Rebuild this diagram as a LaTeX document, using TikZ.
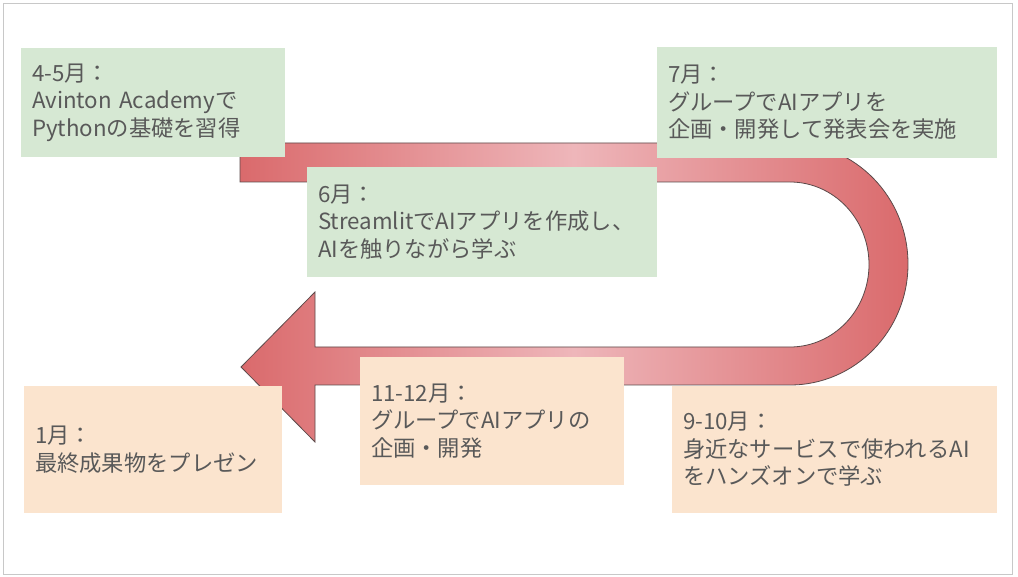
\documentclass[tikz,border=0pt]{standalone}
\usepackage{fontspec}
\setmainfont{Noto Sans CJK JP}
\usetikzlibrary{calc}
\definecolor{boxgreen}{RGB}{214,232,211}
\definecolor{boxorange}{RGB}{251,228,206}
\definecolor{arrowdark}{RGB}{218,106,108}
\definecolor{arrowlight}{RGB}{238,182,186}
\definecolor{arrowline}{RGB}{92,74,74}
\definecolor{txt}{RGB}{89,89,89}
\definecolor{frame}{RGB}{200,200,200}
\begin{document}
\begin{tikzpicture}[x=1pt,y=-1pt,
  stagebox/.style={rectangle, anchor=north west, inner xsep=11pt, inner ysep=0pt,
    outer sep=0pt, align=left, text=txt,
    font=\fontsize{22.3pt}{27.5pt}\selectfont},
  greenbox/.style={stagebox, fill=boxgreen},
  orangebox/.style={stagebox, fill=boxorange},
  uarrow/.style={draw=arrowline, line width=0.8pt, line join=miter,
    left color=arrowdark, right color=arrowdark, middle color=arrowlight}]
\useasboundingbox (0,0) rectangle (1018,577);
\fill[white] (0,0) rectangle (1018,577);
\draw[frame, line width=0.8pt] (3.5,3.5) rectangle (1012,574);
% U-shaped arrow
\path[uarrow] (240,143) -- (790,143)
  arc[start angle=-90, end angle=90, x radius=118, y radius=121]
  -- (315,385) -- (315,442) -- (241,367) -- (315,292) -- (315,347) -- (790,347)
  arc[start angle=90, end angle=-90, x radius=79, y radius=82.5]
  -- (240,182) -- cycle;
% boxes
\node[greenbox, minimum width=264pt, minimum height=109pt, text width=242pt] (apr) at (21,48)
  {4-5月：\\Avinton Academyで\\Pythonの基礎を習得};
\node[greenbox, minimum width=340pt, minimum height=111pt, text width=318pt] (jul) at (657,47)
  {7月：\\グループでAIアプリを\\企画・開発して発表会を実施};
\node[greenbox, minimum width=350pt, minimum height=110pt, text width=328pt] (jun) at (307,167)
  {6月：\\StreamlitでAIアプリを作成し、\\AIを触りながら学ぶ};
\node[orangebox, minimum width=264pt, minimum height=128pt, text width=242pt] (nov) at (360,357)
  {11-12月：\\グループでAIアプリの\\企画・開発};
\node[orangebox, minimum width=325pt, minimum height=127pt, text width=303pt] (sep) at (672,386)
  {9-10月：\\身近なサービスで使われるAI\\をハンズオンで学ぶ};
\node[orangebox, minimum width=258pt, minimum height=127pt, text width=236pt] (jan) at (24,386)
  {1月：\\最終成果物をプレゼン};
\end{tikzpicture}
\end{document}
